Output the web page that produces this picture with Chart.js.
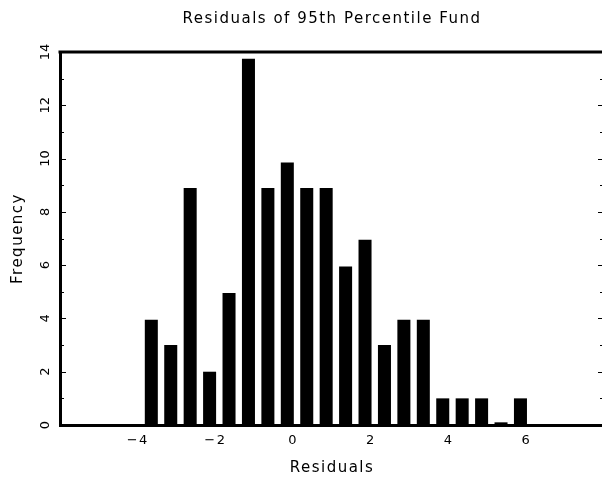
<!DOCTYPE html>
<html>
<head>
<meta charset="utf-8">
<script src="https://cdn.jsdelivr.net/npm/chart.js@4/dist/chart.umd.min.js"></script>
<style>
  html, body { margin: 0; padding: 0; background: #fff; overflow: hidden; }
  canvas { display: block; }
</style>
</head>
<body>
<canvas id="chart" width="605" height="479"></canvas>
<script>
// histogram bins (centres) and counts
const binCenters = [-3.65, -3.15, -2.65, -2.15, -1.65, -1.15, -0.65, -0.15, 0.35, 0.85,
                    1.35, 1.85, 2.35, 2.85, 3.35, 3.85, 4.35, 4.85, 5.35, 5.85];
const frequencies = [3.95, 3.0, 8.9, 2.0, 4.95, 13.75, 8.9, 9.85, 8.9, 8.9,
                     5.95, 6.95, 3.0, 3.95, 3.95, 1.0, 1.0, 1.0, 0.1, 1.0];
const xTickValues = [-4, -2, 0, 2, 4, 6];
const yTickValues = [0, 2, 4, 6, 8, 10, 12, 14];

const FONT = '"DejaVu Sans", sans-serif';

// the original font is wider, so space the letters a bit
const letterSpacing = {
    id: 'letterSpacing',
    beforeDraw(chart) {
        chart.ctx.letterSpacing = '1.5px';
    }
};

// top frame line, inward ticks on both sides, rotated y labels
const frameMarks = {
    id: 'frameMarks',
    afterDraw(chart) {
        const {ctx, chartArea: a, scales: {y}} = chart;
        ctx.save();
        ctx.letterSpacing = '0px';
        ctx.fillStyle = '#000';
        ctx.fillRect(a.left - 1.5, a.top - 1.5, a.right - a.left + 1.5, 3);

        ctx.strokeStyle = '#000';
        ctx.lineWidth = 1;
        for (let v = 1; v < 14; v++) {
            const py = Math.round(y.getPixelForValue(v)) + 0.5;
            const len = v % 2 ? 4 : 6;
            ctx.beginPath();
            ctx.moveTo(a.left, py);
            ctx.lineTo(a.left + len, py);
            ctx.moveTo(a.right, py);
            ctx.lineTo(a.right - len, py);
            ctx.stroke();
        }

        ctx.font = '13px ' + FONT;
        ctx.textAlign = 'center';
        ctx.textBaseline = 'middle';
        for (const v of yTickValues) {
            ctx.save();
            ctx.translate(46, y.getPixelForValue(v));
            ctx.rotate(-Math.PI / 2);
            ctx.fillText(String(v), 0, 0);
            ctx.restore();
        }
        ctx.restore();
    }
};

let chart = new Chart(document.getElementById('chart'), {
    type: 'bar',
    data: {
        datasets: [{
            data: binCenters.map((x, i) => ({x: x, y: frequencies[i]})),
            backgroundColor: '#000',
            borderWidth: 0,
            barPercentage: 0.67,
            categoryPercentage: 1
        }]
    },
    options: {
        responsive: false,
        animation: false,
        layout: {padding: {top: 0, right: 1, left: 0, bottom: 0}},
        plugins: {
            legend: {display: false},
            tooltip: {enabled: false},
            title: {
                display: true,
                fullSize: false,
                text: 'Residuals of 95th Percentile Fund',
                color: '#000',
                font: {family: FONT, size: 15, weight: 'normal'},
                padding: {top: 10, bottom: 24}
            }
        },
        scales: {
            x: {
                type: 'linear',
                min: -6,
                max: 8,
                offset: false,
                grid: {display: false, drawTicks: false},
                border: {display: true, width: 3, color: '#000'},
                afterBuildTicks: (scale) => {
                    scale.ticks = xTickValues.map(v => ({value: v}));
                },
                afterFit: (scale) => { scale.height = 54; },
                ticks: {
                    color: '#000',
                    padding: 8,
                    maxRotation: 0,
                    font: {family: FONT, size: 13},
                    callback: (v) => v < 0 ? '\u2212' + Math.abs(v) : String(v)
                },
                title: {
                    display: true,
                    text: 'Residuals',
                    color: '#000',
                    font: {family: FONT, size: 15},
                    padding: {top: 0, bottom: 2}
                }
            },
            y: {
                min: 0,
                max: 14,
                grid: {display: false, drawTicks: false},
                border: {display: true, width: 3, color: '#000'},
                ticks: {display: false},
                afterFit: (scale) => { scale.width = 60; },
                title: {
                    display: true,
                    text: 'Frequency',
                    color: '#000',
                    font: {family: FONT, size: 15},
                    padding: {top: 9, bottom: 0}
                }
            }
        }
    },
    plugins: [letterSpacing, frameMarks]
});
</script>
</body>
</html>
